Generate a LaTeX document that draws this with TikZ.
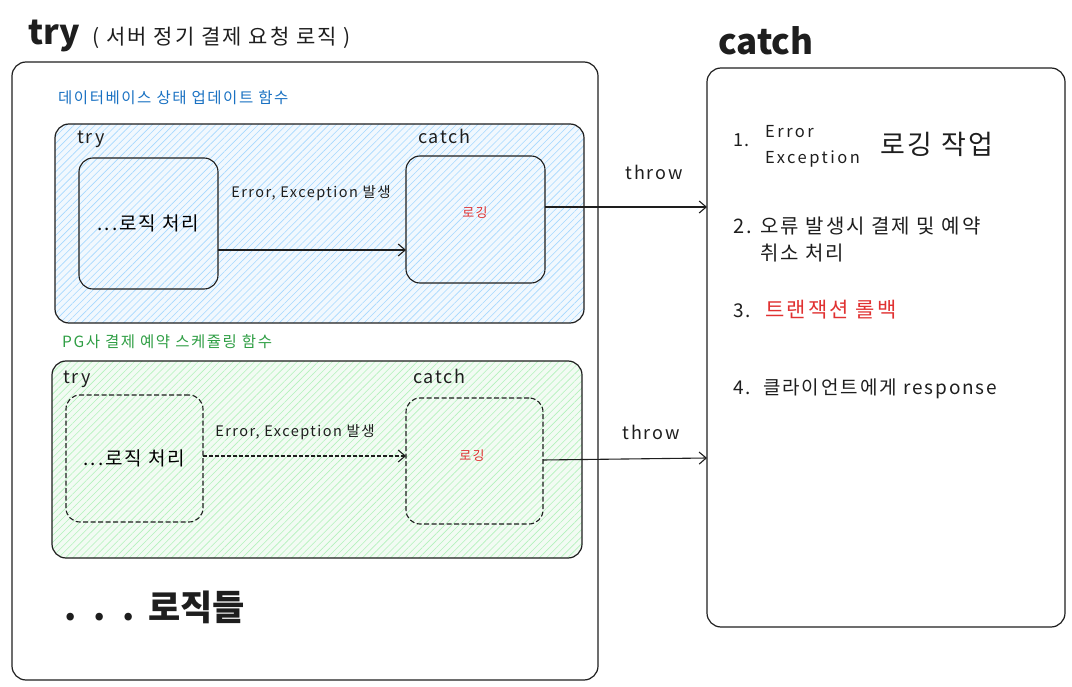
\documentclass[tikz,border=0pt]{standalone}
\usepackage{fontspec}
\setmainfont{Noto Sans CJK KR}[LetterSpace=10]
\newfontfamily\widefont{Noto Sans CJK KR}[LetterSpace=15]
\newfontfamily\plainfont{Noto Sans CJK KR}
\usetikzlibrary{arrows.meta,patterns.meta}
\definecolor{ink}{HTML}{1E1E1E}
\definecolor{bluetxt}{HTML}{1971C2}
\definecolor{greentxt}{HTML}{2F9E44}
\definecolor{redtxt}{HTML}{E03131}
\definecolor{bluebg}{HTML}{F1F8FE}
\definecolor{bluehatch}{HTML}{A5D8FF}
\definecolor{greenbg}{HTML}{F2FBF3}
\definecolor{greenhatch}{HTML}{B2F2BB}
\newcommand\fsz[1]{\fontsize{#1}{#1}\selectfont}
\begin{document}
\begin{tikzpicture}[x=1pt,y=-1pt,
  frame/.style={draw=ink, line width=1.2pt, rounded corners=14pt, inner sep=0pt, outer sep=0pt, anchor=north west},
  bluegroup/.style={frame, preaction={fill=bluebg}, pattern={Lines[angle=45,distance=5pt,line width=0.6pt]}, pattern color=bluehatch},
  greengroup/.style={frame, preaction={fill=greenbg}, pattern={Lines[angle=45,distance=5pt,line width=0.6pt]}, pattern color=greenhatch},
  stepbox/.style={frame, line width=1.1pt, align=center, font=\fsz{19}},
  dstepbox/.style={stepbox, dash pattern=on 5pt off 2.5pt},
  lbl/.style={inner sep=0pt, anchor=base west, text=ink},
  arr/.style={draw=ink, line width=1.1pt, -{Straight Barb[length=7pt,width=12pt,line width=1.1pt]}},
  darr/.style={arr, dash pattern=on 4pt off 2pt}]
\useasboundingbox (0,0) rectangle (1072,687);

% titles
\node[lbl, font=\plainfont\fsz{34}\bfseries] (tryT) at (28,45) {try};
\node[lbl, font=\fsz{21}] (tryS) at (92,45) {( 서버 정기 결제 요청 로직 )};
\node[lbl, font=\plainfont\fsz{35}\bfseries] (catchT) at (718,55) {catch};

% outer boxes
\node[frame, minimum width=586, minimum height=618] (outer) at (12,62) {};
\node[frame, minimum width=358, minimum height=559] (catchbox) at (707,68) {};

% blue section
\node[lbl, text=bluetxt, font=\fsz{15.5}] (blueL) at (58,104) {데이터베이스 상태 업데이트 함수};
\node[bluegroup, minimum width=529, minimum height=199] (bluebox) at (55,124) {};
\node[lbl, font=\fsz{18}] (tryA) at (77,144) {try};
\node[lbl, font=\fsz{18}] (catchA) at (418,144) {catch};
\node[stepbox, minimum width=139, minimum height=131] (try1) at (79,158) {...로직 처리};
\node[stepbox, minimum width=139, minimum height=127] (catch1) at (406,156) {};
\node[text=redtxt, font=\fsz{13}] (log1) at (475,213) {로깅};
\draw[arr] (try1.east |- 0,250) -- (catch1.west |- 0,250);
\node[font=\fsz{14.5}, text=ink] (err1) at (311,193) {Error, Exception 발생};
\draw[arr] (catch1.east |- 0,207) -- (catchbox.west |- 0,207);
\node[font=\fsz{18}, text=ink] (throw1) at (654,172) {throw};

% green section
\node[lbl, text=greentxt, font=\fsz{15.5}] (greenL) at (62,348) {PG사 결제 예약 스케쥴링 함수};
\node[greengroup, minimum width=530, minimum height=197] (greenbox) at (52,361) {};
\node[lbl, font=\fsz{18}] (tryB) at (63,383) {try};
\node[lbl, font=\fsz{18}] (catchB) at (413,383) {catch};
\node[dstepbox, minimum width=137, minimum height=127] (try2) at (66,395) {...로직 처리};
\node[dstepbox, minimum width=137, minimum height=126] (catch2) at (406,398) {};
\node[text=redtxt, font=\fsz{13}] (log2) at (472,456) {로깅};
\draw[darr] (try2.east |- 0,456) -- (catch2.west |- 0,456);
\node[font=\fsz{14.5}, text=ink] (err2) at (295,432) {Error, Exception 발생};
\draw[arr] (catch2.east |- 0,460) -- (catchbox.west |- 0,458);
\node[font=\fsz{18}, text=ink] (throw2) at (651,432) {throw};

% more logic
\node[inner sep=0pt, anchor=west, font=\plainfont\fsz{35}\bfseries, text=ink] (more) at (64,607) {.\hspace{17pt}.\hspace{17pt}.\hspace{13pt}로직들};

% catch items
\node[lbl, font=\fsz{18}] (n1) at (733,147) {1.};
\node[lbl, font=\widefont\fsz{16.5}] (e1) at (765,138) {Error};
\node[lbl, font=\widefont\fsz{16.5}] (e2) at (765,164) {Exception};
\node[lbl, font=\fsz{27}] (i1) at (880,155) {로깅 작업};
\node[lbl, font=\fsz{20}] (i2a) at (733,234) {2. 오류 발생시 결제 및 예약};
\node[lbl, font=\fsz{20}] (i2b) at (760,261) {취소 처리};
\node[lbl, font=\fsz{19}] (n3) at (733,318) {3.};
\node[lbl, font=\fsz{21}, text=redtxt] (i3) at (765,318) {트랜잭션 롤백};
\node[lbl, font=\fsz{19}] (n4) at (733,395) {4.};
\node[lbl, font=\fsz{19}] (i4) at (763,395) {클라이언트에게 response};
\end{tikzpicture}
\end{document}
